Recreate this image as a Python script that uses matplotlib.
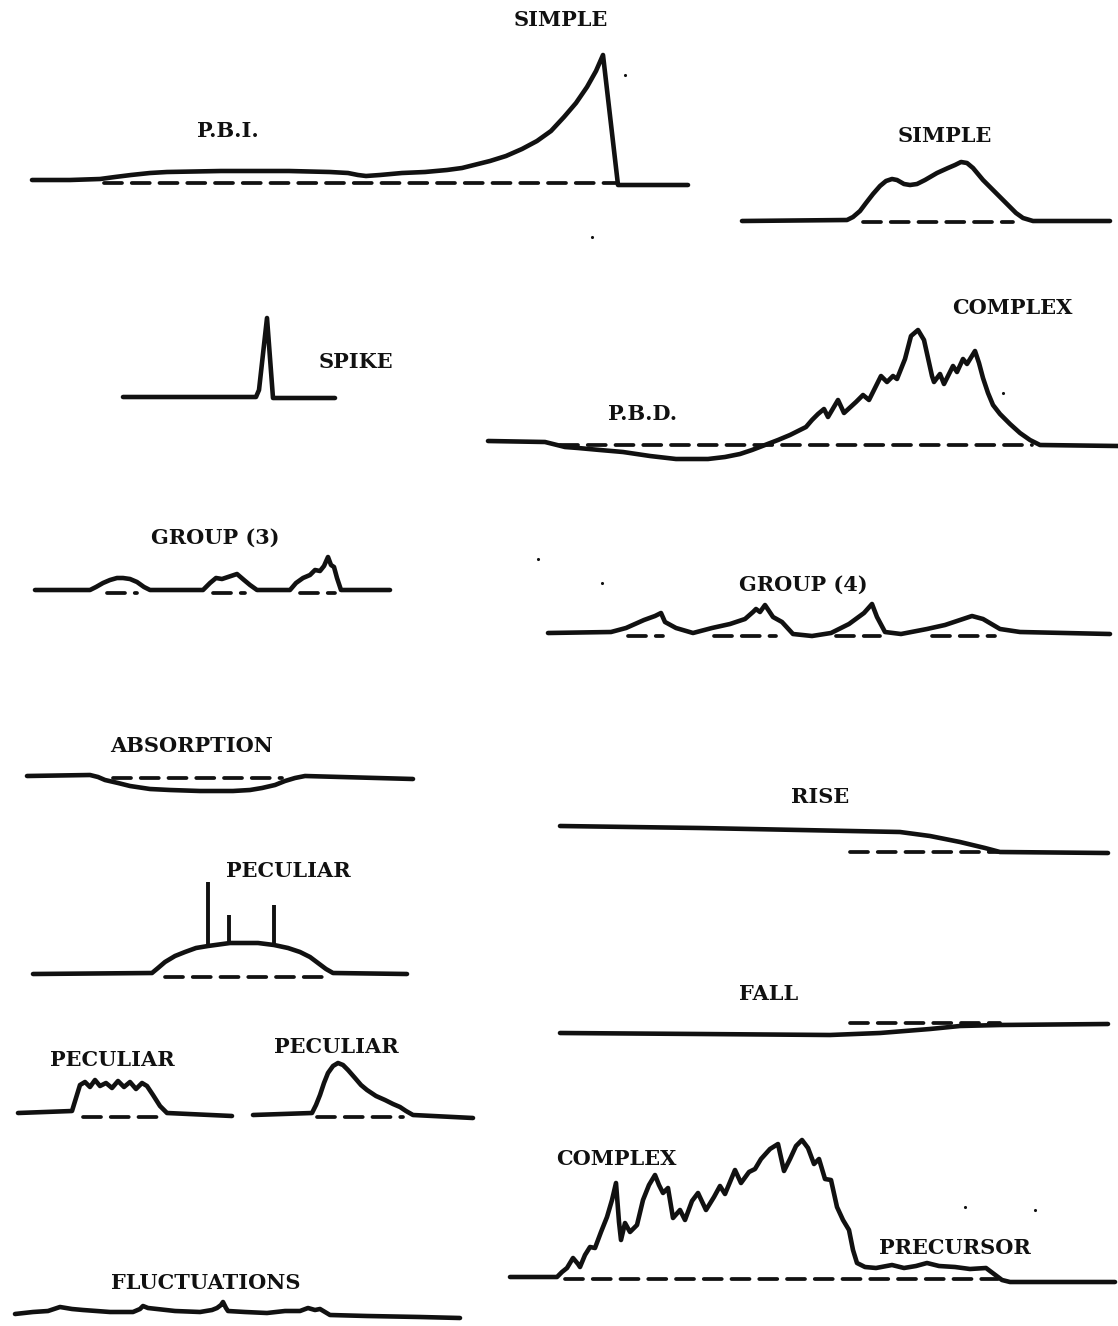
import matplotlib
matplotlib.use("Agg")
import matplotlib.pyplot as plt

# Schematic sketches of burst types, drawn on a page-unit canvas (x right, y down)
PAGE_W, PAGE_H = 1118, 1326

# --- P.B.I. rising into a SIMPLE burst ---
pbi_x = [32, 70, 100, 115, 131, 150, 167, 221, 289, 330, 348, 358, 366, 380, 402, 425, 447,
         462, 474, 490, 506, 522, 537, 551, 564, 576, 587, 596, 603, 618, 688]
pbi_y = [180, 180, 179, 177, 175, 173, 172, 171, 171, 172, 173, 175, 176, 175, 173, 172, 170,
         168, 165, 161, 156, 149, 141, 131, 117, 103, 87, 71, 55, 185, 185]
pbi_base_x = [104, 616]
pbi_base_y = [183, 183]

# --- SIMPLE (double hump) ---
simple_x = [742, 847, 853, 860, 866, 873, 880, 886, 892, 897, 904, 910, 917, 925, 937, 948,
            955, 961, 967, 973, 983, 995, 1007, 1016, 1023, 1033, 1110]
simple_y = [221, 220, 217, 211, 203, 194, 186, 181, 179, 180, 184, 185, 184, 180, 173, 168,
            165, 162, 163, 168, 180, 192, 204, 213, 218, 221, 221]
simple_base_x = [863, 1013]
simple_base_y = [222, 222]

# --- SPIKE ---
spike_x = [123, 256, 259, 267, 273, 335]
spike_y = [397, 397, 390, 318, 398, 398]

# --- P.B.D. followed by a COMPLEX burst ---
pbd_x = [488, 545, 553, 565, 578, 600, 623, 650, 676, 708, 725, 740, 752, 765, 778, 790,
         800, 806, 812, 818, 824, 828, 838, 844, 856, 863, 869, 877, 881, 887, 893, 897,
         905, 911, 918, 924, 932, 934, 940, 944, 953, 957, 963, 967, 975, 979, 983, 988,
         993, 1000, 1010, 1020, 1030, 1040, 1118]
pbd_y = [441, 442, 444, 447, 448, 450, 452, 456, 459, 459, 457, 454, 450, 445, 440, 435,
         430, 427, 420, 414, 409, 417, 400, 413, 402, 395, 400, 384, 376, 382, 376, 379,
         359, 336, 330, 340, 376, 382, 374, 384, 366, 372, 359, 364, 351, 363, 378, 393,
         405, 414, 424, 433, 440, 445, 446]
pbd_base_x = [560, 1032]
pbd_base_y = [445, 445]

# --- GROUP (3) ---
g3_x = [35, 90, 96, 103, 110, 117, 123, 130, 137, 144, 150, 203, 210, 216, 222, 228, 237,
        244, 250, 257, 290, 296, 303, 310, 315, 320, 324, 328, 331, 334, 337, 341, 390]
g3_y = [590, 590, 587, 583, 580, 578, 578, 579, 582, 587, 590, 590, 583, 578, 579, 577, 574,
        580, 585, 590, 590, 583, 578, 575, 570, 571, 566, 557, 565, 567, 578, 590, 590]
g3_dash_x0 = [107, 213, 300]
g3_dash_x1 = [137, 245, 335]
g3_dash_y = 593

# --- GROUP (4) ---
g4_x = [548, 611, 626, 644, 655, 661, 665, 676, 693, 712, 730, 745, 753, 756, 760, 765,
        773, 782, 793, 812, 831, 849, 864, 872, 877, 885, 901, 927, 945, 972, 983, 1000,
        1020, 1110]
g4_y = [633, 632, 628, 620, 616, 613, 622, 628, 633, 628, 624, 619, 612, 609, 612, 605,
        617, 622, 634, 636, 633, 624, 613, 604, 617, 632, 634, 629, 625, 616, 619, 629,
        632, 634]
g4_dash_x0 = [628, 714, 836, 932]
g4_dash_x1 = [663, 776, 880, 995]
g4_dash_y = 636

# --- ABSORPTION ---
abs_x = [27, 90, 98, 105, 118, 130, 150, 170, 200, 233, 250, 262, 275, 285, 295, 305, 413]
abs_y = [776, 775, 777, 780, 783, 786, 789, 790, 791, 791, 790, 788, 785, 781, 778, 776, 779]
abs_base_x = [113, 282]
abs_base_y = [778, 778]

# --- PECULIAR with superposed spikes ---
pec1_x = [33, 152, 158, 165, 175, 185, 196, 208, 230, 258, 274, 288, 300, 310, 318, 326, 333, 407]
pec1_y = [974, 973, 968, 962, 956, 952, 948, 946, 943, 943, 945, 948, 952, 957, 963, 969, 973, 974]
pec1_spike_x = [208, 229, 274]
pec1_spike_base = [946, 943, 945]
pec1_spike_top = [882, 915, 905]
pec1_base_x = [165, 325]
pec1_base_y = [977, 977]

# --- PECULIAR (flat top) ---
pec2_x = [18, 72, 76, 80, 85, 90, 95, 100, 106, 112, 118, 124, 130, 136, 142, 147, 153, 160, 167, 232]
pec2_y = [1113, 1111, 1098, 1085, 1082, 1087, 1080, 1086, 1083, 1088, 1081, 1087, 1082, 1089,
          1083, 1086, 1095, 1106, 1113, 1116]
pec2_base_x = [83, 163]
pec2_base_y = [1117, 1117]

# --- PECULIAR (fast rise, slow decay) ---
pec3_x = [253, 312, 316, 320, 324, 328, 333, 338, 343, 348, 355, 361, 367, 376, 385, 393,
          400, 406, 413, 473]
pec3_y = [1115, 1113, 1105, 1095, 1083, 1073, 1066, 1063, 1065, 1070, 1078, 1085, 1090,
          1096, 1100, 1104, 1107, 1111, 1115, 1118]
pec3_base_x = [317, 403]
pec3_base_y = [1117, 1117]

# --- RISE ---
rise_x = [560, 700, 900, 930, 960, 985, 1000, 1108]
rise_y = [826, 828, 832, 836, 842, 848, 852, 853]
rise_base_x = [850, 998]
rise_base_y = [852, 852]

# --- FALL ---
fall_x = [560, 700, 830, 880, 930, 960, 1000, 1108]
fall_y = [1033, 1034, 1035, 1033, 1029, 1026, 1025, 1024]
fall_base_x = [850, 1000]
fall_base_y = [1023, 1023]

# --- COMPLEX with PRECURSOR ---
cx_x = [510, 557, 562, 567, 573, 578, 580, 585, 590, 595, 601, 607, 612, 616, 619, 621,
        625, 630, 637, 643, 649, 655, 659, 663, 668, 673, 680, 685, 692, 698, 706, 714,
        720, 725, 735, 741, 749, 755, 761, 770, 778, 784, 790, 796, 802, 808, 814, 819,
        825, 831, 837, 843, 849, 853, 857, 865, 876, 892, 904, 916, 927, 939, 955, 970,
        986, 1002, 1010, 1115]
cx_y = [1277, 1277, 1272, 1268, 1258, 1264, 1267, 1255, 1247, 1248, 1232, 1217, 1200, 1183,
        1222, 1240, 1223, 1232, 1225, 1200, 1185, 1175, 1185, 1193, 1188, 1218, 1210, 1220,
        1201, 1193, 1210, 1197, 1186, 1194, 1170, 1183, 1172, 1169, 1159, 1149, 1144, 1171,
        1159, 1146, 1140, 1148, 1164, 1159, 1179, 1180, 1207, 1220, 1230, 1250, 1263, 1267,
        1268, 1265, 1268, 1266, 1263, 1266, 1267, 1269, 1268, 1280, 1282, 1282]
cx_base_x = [565, 998]
cx_base_y = [1279, 1279]

# --- FLUCTUATIONS ---
fl_x = [15, 33, 48, 60, 72, 83, 110, 133, 140, 143, 148, 157, 175, 200, 212, 217, 221,
        223, 226, 228, 245, 267, 285, 300, 308, 315, 320, 325, 330, 367, 420, 460]
fl_y = [1314, 1312, 1311, 1307, 1309, 1310, 1312, 1312, 1309, 1306, 1308, 1309, 1311, 1312,
        1310, 1308, 1305, 1302, 1308, 1311, 1312, 1313, 1311, 1311, 1308, 1310, 1309, 1312,
        1315, 1316, 1317, 1318]

# Stray pen marks on the sheet
speck_x = [625, 592, 1003, 965, 1035, 538, 602]
speck_y = [75, 237, 393, 1207, 1210, 559, 583]

# Labels: text, x, y
labels = [
    ("SIMPLE", 561, 20),
    ("P.B.I.", 228, 131),
    ("SIMPLE", 945, 136),
    ("SPIKE", 356, 362),
    ("COMPLEX", 1012, 308),
    ("P.B.D.", 643, 414),
    ("GROUP (3)", 215, 538),
    ("GROUP (4)", 803, 585),
    ("ABSORPTION", 192, 746),
    ("RISE", 820, 797),
    ("PECULIAR", 288, 871),
    ("FALL", 769, 994),
    ("PECULIAR", 112, 1060),
    ("PECULIAR", 336, 1047),
    ("COMPLEX", 616, 1159),
    ("PRECURSOR", 955, 1248),
    ("FLUCTUATIONS", 206, 1283),
]

fig = plt.figure(figsize=(PAGE_W / 100, PAGE_H / 100), dpi=100)
ax = fig.add_axes([0, 0, 1, 1])
ax.set_xlim(0, PAGE_W)
ax.set_ylim(PAGE_H, 0)
ax.axis("off")

INK = "#111111"
SOLID = dict(color=INK, lw=3.3, solid_capstyle="round", solid_joinstyle="round")
DASH = dict(color=INK, lw=2.7, linestyle=(0, (4.8, 2.6)), dash_capstyle="round")

solid_traces = [
    (pbi_x, pbi_y), (simple_x, simple_y), (spike_x, spike_y), (pbd_x, pbd_y),
    (g3_x, g3_y), (g4_x, g4_y), (abs_x, abs_y), (pec1_x, pec1_y), (pec2_x, pec2_y),
    (pec3_x, pec3_y), (rise_x, rise_y), (fall_x, fall_y), (cx_x, cx_y), (fl_x, fl_y),
]
for xs, ys in solid_traces:
    ax.plot(xs, ys, **SOLID)

dashed_traces = [
    (pbi_base_x, pbi_base_y), (simple_base_x, simple_base_y), (pbd_base_x, pbd_base_y),
    (abs_base_x, abs_base_y), (pec1_base_x, pec1_base_y), (pec2_base_x, pec2_base_y),
    (pec3_base_x, pec3_base_y), (rise_base_x, rise_base_y), (fall_base_x, fall_base_y),
    (cx_base_x, cx_base_y),
]
for xs, ys in dashed_traces:
    ax.plot(xs, ys, **DASH)

for x0, x1 in zip(g3_dash_x0, g3_dash_x1):
    ax.plot([x0, x1], [g3_dash_y, g3_dash_y], **DASH)
for x0, x1 in zip(g4_dash_x0, g4_dash_x1):
    ax.plot([x0, x1], [g4_dash_y, g4_dash_y], **DASH)

# Vertical spikes riding on the peculiar burst
for sx, base, top in zip(pec1_spike_x, pec1_spike_base, pec1_spike_top):
    ax.plot([sx, sx], [base, top], color=INK, lw=2.8, solid_capstyle="butt")

ax.scatter(speck_x, speck_y, s=5, color=INK, lw=0)

for text, x, y in labels:
    ax.text(x, y, text, ha="center", va="center", fontsize=15,
            family="DejaVu Serif", weight="bold", color=INK)

fig.savefig("out.png", dpi=100, facecolor="white")
